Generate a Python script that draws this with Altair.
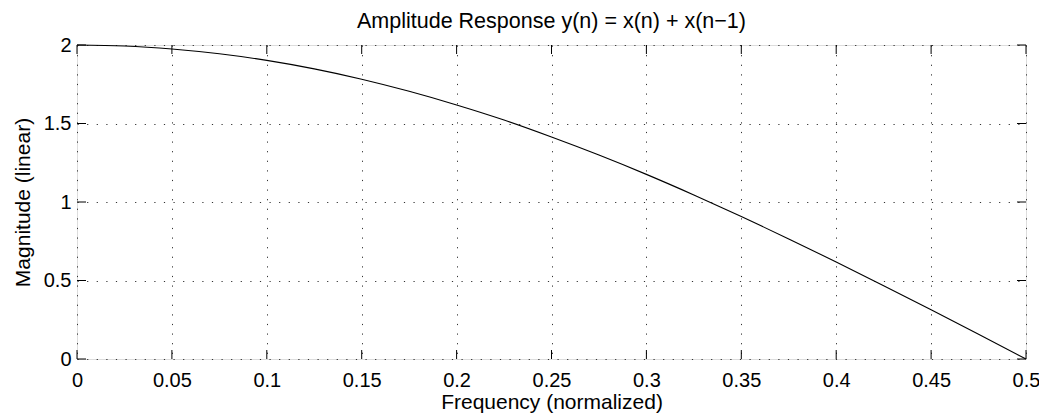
import altair as alt
import pandas as pd

# Values
freq = [0.0, 0.025, 0.05, 0.075, 0.1, 0.125, 0.15, 0.175, 0.2, 0.225, 0.25,
        0.275, 0.3, 0.325, 0.35, 0.375, 0.4, 0.425, 0.45, 0.475, 0.5]
magnitude = [2.0, 1.994, 1.975, 1.944, 1.902, 1.848, 1.782, 1.705, 1.618, 1.522, 1.414,
             1.299, 1.176, 1.045, 0.908, 0.765, 0.618, 0.467, 0.313, 0.157, 0.0]
x_ticks = [0, 0.05, 0.1, 0.15, 0.2, 0.25, 0.3, 0.35, 0.4, 0.45, 0.5]
y_ticks = [0, 0.5, 1, 1.5, 2]

W, H = 949, 314
FONT = "Liberation Sans"

df = pd.DataFrame({"f": freq, "m": magnitude})
xt = pd.DataFrame({"f": x_ticks})
yt = pd.DataFrame({"m": y_ticks})

xscale = alt.Scale(domain=[0, 0.5], nice=False, zero=False)
yscale = alt.Scale(domain=[0, 2], nice=False, zero=False)

grid_style = dict(grid=True, gridColor="#333333", gridDash=[1.2, 8.4], gridWidth=1,
                  ticks=False, domain=False, labelColor="black", labelFont=FONT,
                  labelFontSize=20, labelFlush=False, labelOverlap=False,
                  titleFont=FONT, titleFontSize=21,
                  titleFontWeight="normal", titleColor="black", format="~g")

line = alt.Chart(df).mark_line(color="black", strokeWidth=1.1, interpolate="monotone").encode(
    x=alt.X("f:Q", scale=xscale,
            axis=alt.Axis(values=x_ticks, title="Frequency (normalized)",
                          labelPadding=11, titlePadding=1, **grid_style)),
    y=alt.Y("m:Q", scale=yscale,
            axis=alt.Axis(values=y_ticks, title="Magnitude (linear)",
                          labelPadding=6, titlePadding=10, **grid_style)),
)

tick_len = 9
bottom_ticks = alt.Chart(xt).mark_rule(color="black", strokeWidth=1).encode(
    x=alt.X("f:Q", scale=xscale), y=alt.value(H), y2=alt.value(H - tick_len))
top_ticks = alt.Chart(xt).mark_rule(color="black", strokeWidth=1).encode(
    x=alt.X("f:Q", scale=xscale), y=alt.value(0), y2=alt.value(tick_len))
left_ticks = alt.Chart(yt).mark_rule(color="black", strokeWidth=1).encode(
    y=alt.Y("m:Q", scale=yscale), x=alt.value(0), x2=alt.value(tick_len))
right_ticks = alt.Chart(yt).mark_rule(color="black", strokeWidth=1).encode(
    y=alt.Y("m:Q", scale=yscale), x=alt.value(W), x2=alt.value(W - tick_len))

chart = alt.layer(line, bottom_ticks, top_ticks, left_ticks, right_ticks).properties(
    width=W, height=H,
    title=alt.Title("Amplitude Response y(n) = x(n) + x(n\u22121)", font=FONT,
                    fontSize=21.5, fontWeight="normal", color="black", offset=3),
    autosize=alt.AutoSizeParams(type="none"),
    padding={"left": 69, "top": 37, "right": 13, "bottom": 54},
).configure_view(stroke="black", strokeWidth=1.2).configure(background="white")

chart.save("out.html", embed_options={"renderer": "svg", "actions": False})
